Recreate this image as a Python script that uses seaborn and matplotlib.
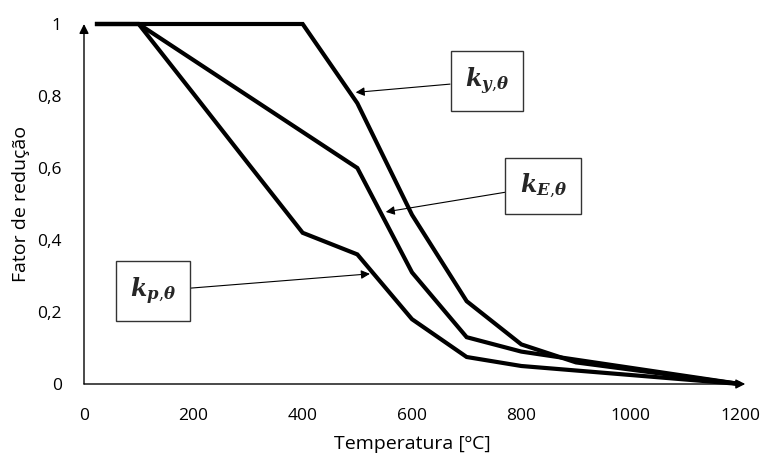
import matplotlib
matplotlib.use("Agg")
import matplotlib.pyplot as plt
import seaborn as sns
import pandas as pd

# Reduction factors for carbon steel at elevated temperature
temperatura = [20, 100, 200, 300, 400, 500, 600, 700, 800, 900, 1000, 1100, 1200]
k_y = [1.0, 1.0, 1.0, 1.0, 1.0, 0.78, 0.47, 0.23, 0.11, 0.06, 0.04, 0.02, 0.0]
k_E = [1.0, 1.0, 0.9, 0.8, 0.7, 0.6, 0.31, 0.13, 0.09, 0.0675, 0.045, 0.0225, 0.0]
k_p = [1.0, 1.0, 0.807, 0.613, 0.42, 0.36, 0.18, 0.075, 0.05, 0.0375, 0.025, 0.0125, 0.0]

x_ticks = [0, 200, 400, 600, 800, 1000, 1200]
y_ticks = [0, 0.2, 0.4, 0.6, 0.8, 1.0]
y_tick_labels = ["0", "0,2", "0,4", "0,6", "0,8", "1"]

sns.set_theme(style="white")
plt.rcParams["font.family"] = ["Open Sans", "DejaVu Sans"]
plt.rcParams["mathtext.fontset"] = "dejavuserif"

df = pd.concat([
    pd.DataFrame({"T": temperatura, "k": k_y, "fator": "ky"}),
    pd.DataFrame({"T": temperatura, "k": k_E, "fator": "kE"}),
    pd.DataFrame({"T": temperatura, "k": k_p, "fator": "kp"}),
])

fig = plt.figure(figsize=(7.7, 4.53), dpi=100)
ax = fig.add_axes([84 / 770, 1 - 384 / 453, (740 - 84) / 770, 360 / 453])

sns.lineplot(data=df, x="T", y="k", hue="fator", palette=["black"] * 3,
             linewidth=3.0, legend=False, ax=ax, clip_on=False,
             solid_joinstyle="miter", solid_capstyle="butt")

ax.set_xlim(0, 1200)
ax.set_ylim(0, 1)
ax.set_xticks(x_ticks)
ax.set_xticklabels([str(t) for t in x_ticks])
ax.set_yticks(y_ticks)
ax.set_yticklabels(y_tick_labels)
ax.tick_params(axis="both", length=0, labelsize=12.5, colors="black")
ax.tick_params(axis="x", pad=17)
ax.tick_params(axis="y", pad=16)
for s in ax.spines.values():
    s.set_visible(False)

ax.set_xlabel("Temperatura [ºC]", fontsize=14, color="black")
ax.set_ylabel("Fator de redução", fontsize=14, color="black")
ax.xaxis.set_label_coords(0.5, -0.142)
ax.yaxis.set_label_coords(-0.082, 0.5)

# Axes drawn as arrows
ax.annotate("", xy=(1.008, 0), xytext=(0, 0), xycoords="axes fraction",
            arrowprops=dict(arrowstyle="-|>", color="black", lw=1.0,
                            mutation_scale=14, shrinkA=0, shrinkB=0))
ax.annotate("", xy=(0, 1.0), xytext=(0, 0), xycoords="axes fraction",
            arrowprops=dict(arrowstyle="-|>", color="black", lw=1.0,
                            mutation_scale=14, shrinkA=0, shrinkB=0))

box = dict(boxstyle="square,pad=0.6", fc="white", ec="#333333", lw=1.0)
arrow = dict(arrowstyle="-|>", color="black", lw=0.8, mutation_scale=13,
             shrinkA=0, shrinkB=0)

labels = [
    (r"$\mathbfit{k}_{\mathbfit{y}{,}\mathbfit{\theta}}$", (497, 0.81), (737, 0.842)),
    (r"$\mathbfit{k}_{\mathbfit{E}{,}\mathbfit{\theta}}$", (552, 0.478), (840, 0.55)),
    (r"$\mathbfit{k}_{\mathbfit{p}{,}\mathbfit{\theta}}$", (523, 0.306), (126, 0.258)),
]
for txt, tip, pos in labels:
    ax.annotate(txt, xy=tip, xytext=pos, textcoords="data", fontsize=17,
                ha="center", va="center", bbox=box, arrowprops=arrow)

fig.savefig("out.png", dpi=100)
